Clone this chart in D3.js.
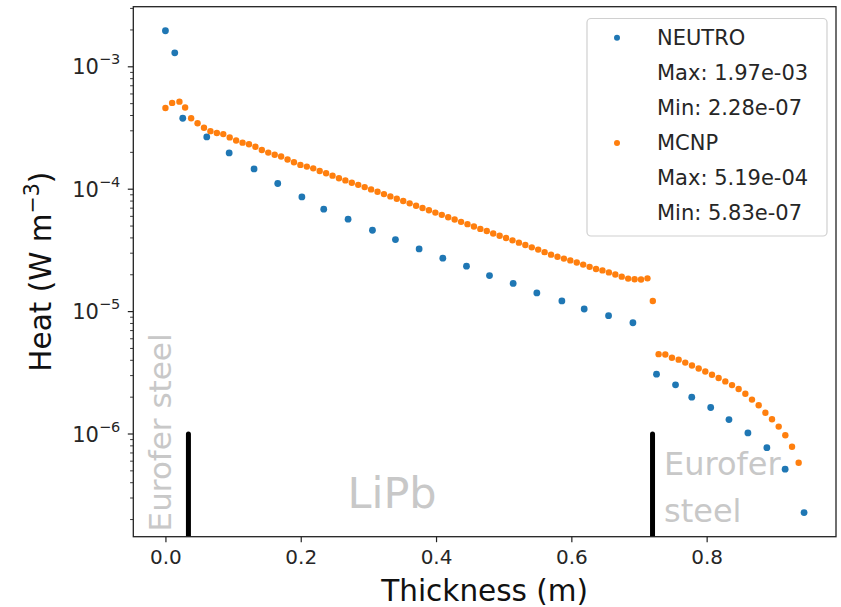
<!DOCTYPE html>
<html>
<head>
<meta charset="utf-8">
<script src="https://cdn.jsdelivr.net/npm/d3@7"></script>
<style>
  html, body { margin: 0; padding: 0; background: #fff; }
  svg { display: block; }
  text { font-family: "DejaVu Sans", sans-serif; }
</style>
</head>
<body>
<svg id="chart" width="841" height="607"></svg>
<script>
// NEUTRO volumetric heating profile (coarse cells)
const neutroX = [0.000, 0.0138, 0.0256, 0.0611, 0.0942, 0.131, 0.166, 0.2017, 0.234, 0.270,
  0.306, 0.340, 0.375, 0.410, 0.445, 0.479, 0.514, 0.549, 0.586, 0.619, 0.655, 0.691,
  0.7259, 0.754, 0.778, 0.806, 0.833, 0.861, 0.889, 0.916, 0.944];
const neutroHeat = [1.97e-3, 1.30e-3, 3.80e-4, 2.675e-4, 1.98e-4, 1.465e-4, 1.113e-4, 8.65e-5, 6.87e-5, 5.69e-5,
  4.62e-5, 3.88e-5, 3.25e-5, 2.73e-5, 2.35e-5, 1.97e-5, 1.70e-5, 1.42e-5, 1.223e-5, 1.05e-5, 9.26e-6, 8.11e-6,
  3.08e-6, 2.52e-6, 2.00e-6, 1.646e-6, 1.313e-6, 1.021e-6, 7.73e-7, 5.16e-7, 2.28e-7];

// MCNP tally results (fine mesh)
const mcnpX = [0.000, 0.0099, 0.0207, 0.0291,
  0.038, 0.0475, 0.057, 0.0665, 0.076, 0.0855, 0.095, 0.1045, 0.114, 0.1235,
  0.133, 0.1425, 0.152, 0.1615, 0.171, 0.1805, 0.19, 0.1995, 0.209, 0.2185,
  0.228, 0.2375, 0.247, 0.2565, 0.266, 0.2755, 0.285, 0.2945, 0.304, 0.3135,
  0.323, 0.3325, 0.342, 0.3515, 0.361, 0.3705, 0.38, 0.3895, 0.399, 0.4085,
  0.418, 0.4275, 0.437, 0.4465, 0.456, 0.4655, 0.475, 0.4845, 0.494, 0.5035,
  0.513, 0.5225, 0.532, 0.5415, 0.551, 0.5605, 0.57, 0.5795, 0.589, 0.5985,
  0.608, 0.6175, 0.627, 0.6365, 0.646, 0.6555, 0.665, 0.6745, 0.684, 0.6935,
  0.703, 0.7125, 0.7204,
  0.729, 0.7389, 0.7487, 0.7586, 0.7684, 0.7783, 0.7882, 0.798, 0.8079, 0.8177,
  0.8276, 0.8375, 0.8473, 0.8572, 0.867, 0.8769, 0.8868, 0.8966, 0.9065, 0.9163,
  0.9262, 0.936];
const mcnpHeat = [4.61e-4, 5.07e-4, 5.19e-4, 4.65e-4,
  3.80e-4, 3.46e-4, 3.18e-4, 2.98e-4, 2.88e-4, 2.82e-4, 2.65e-4, 2.50e-4, 2.40e-4, 2.33e-4,
  2.22e-4, 2.09e-4, 1.99e-4, 1.91e-4, 1.85e-4, 1.75e-4, 1.66e-4, 1.58e-4, 1.53e-4, 1.48e-4,
  1.41e-4, 1.35e-4, 1.29e-4, 1.23e-4, 1.18e-4, 1.13e-4, 1.085e-4, 1.04e-4, 9.96e-5, 9.53e-5,
  9.12e-5, 8.73e-5, 8.36e-5, 8.00e-5, 7.66e-5, 7.33e-5, 7.03e-5, 6.73e-5, 6.44e-5, 6.17e-5,
  5.90e-5, 5.65e-5, 5.41e-5, 5.18e-5, 4.96e-5, 4.74e-5, 4.55e-5, 4.35e-5, 4.17e-5, 3.99e-5,
  3.82e-5, 3.66e-5, 3.50e-5, 3.35e-5, 3.21e-5, 3.06e-5, 2.92e-5, 2.81e-5, 2.71e-5, 2.62e-5,
  2.52e-5, 2.42e-5, 2.32e-5, 2.23e-5, 2.17e-5, 2.09e-5, 2.01e-5, 1.93e-5, 1.86e-5, 1.84e-5,
  1.83e-5, 1.87e-5, 1.22e-5,
  4.49e-6, 4.46e-6, 4.20e-6, 4.05e-6, 3.83e-6, 3.63e-6, 3.43e-6, 3.24e-6, 3.05e-6, 2.87e-6,
  2.69e-6, 2.51e-6, 2.33e-6, 2.13e-6, 1.91e-6, 1.72e-6, 1.49e-6, 1.32e-6, 1.15e-6, 9.78e-7,
  7.87e-7, 5.83e-7];

// Layer interfaces (m) and marker height
const interfaces = [0.034, 0.72];
const interfaceTop = 1e-6;

const xTicks = [0.0, 0.2, 0.4, 0.6, 0.8];
const yTickExps = [-6, -5, -4, -3];

const legendRows = [
  { series: "neutro", text: "NEUTRO" },
  { series: null, text: "Max: 1.97e-03" },
  { series: null, text: "Min: 2.28e-07" },
  { series: "mcnp", text: "MCNP" },
  { series: null, text: "Max: 5.19e-04" },
  { series: null, text: "Min: 5.83e-07" }
];

const colors = { neutro: "#1f77b4", mcnp: "#ff7f0e" };

const svg = d3.select("#chart");
const plot = { left: 133.3, right: 836, top: 6.7, bottom: 536.7 };

const x = d3.scaleLinear().domain([-0.0475, 0.9912]).range([plot.left, plot.right]);
const y = d3.scaleLog().domain([Math.pow(10, -6.839), Math.pow(10, -2.509)]).range([plot.bottom, plot.top]);

svg.append("defs").append("clipPath").attr("id", "plotClip")
  .append("rect")
  .attr("x", plot.left).attr("y", plot.top)
  .attr("width", plot.right - plot.left).attr("height", plot.bottom - plot.top);

const inner = svg.append("g").attr("clip-path", "url(#plotClip)");

// Layer interface markers
inner.selectAll("line.iface").data(interfaces).join("line")
  .attr("class", "iface")
  .attr("x1", d => x(d)).attr("x2", d => x(d))
  .attr("y1", plot.bottom + 10).attr("y2", y(interfaceTop))
  .attr("stroke", "#000").attr("stroke-width", 5).attr("stroke-linecap", "round");

// Data points
inner.selectAll("circle.neutro").data(d3.zip(neutroX, neutroHeat)).join("circle")
  .attr("class", "neutro")
  .attr("cx", d => x(d[0])).attr("cy", d => y(d[1])).attr("r", 3.4)
  .attr("fill", colors.neutro);

inner.selectAll("circle.mcnp").data(d3.zip(mcnpX, mcnpHeat)).join("circle")
  .attr("class", "mcnp")
  .attr("cx", d => x(d[0])).attr("cy", d => y(d[1])).attr("r", 3.2)
  .attr("fill", colors.mcnp);

// Region annotations
const regionColor = "#c8c8c8";
const regionFont = "'Open Sans', 'Noto Sans', sans-serif";
svg.append("text")
  .attr("transform", `translate(${x(-0.0075)},${y(1.6e-7)}) rotate(-90)`)
  .attr("fill", regionColor).attr("font-family", regionFont).attr("font-size", 31)
  .attr("dominant-baseline", "central")
  .text("Eurofer steel");

svg.append("text")
  .attr("x", x(0.335)).attr("y", y(2.5e-7))
  .attr("text-anchor", "middle")
  .attr("fill", regionColor).attr("font-family", regionFont).attr("font-size", 43)
  .text("LiPb");

const rightLabel = svg.append("text")
  .attr("fill", regionColor).attr("font-family", regionFont).attr("font-size", 32);
rightLabel.append("tspan").attr("x", x(0.737)).attr("y", y(4.6e-7)).text("Eurofer");
rightLabel.append("tspan").attr("x", x(0.737)).attr("y", y(1.9e-7)).text("steel");

// Axes
const axisColor = "#222";
const xAxis = svg.append("g").attr("transform", `translate(0,${plot.bottom})`)
  .call(d3.axisBottom(x).tickValues(xTicks).tickFormat(d3.format(".1f")).tickSizeOuter(0).tickSize(5.5).tickPadding(8));
xAxis.select(".domain").remove();
xAxis.selectAll(".tick line").attr("stroke", axisColor).attr("stroke-width", 1.2);
xAxis.selectAll(".tick text").attr("font-size", 20).attr("fill", "#262626");

// Y axis: major decades with superscript labels, minor ticks between
const minorVals = [];
for (let e = -7; e <= -3; e++) {
  for (let m = 2; m <= 9; m++) {
    const v = m * Math.pow(10, e);
    if (v >= y.domain()[0] && v <= y.domain()[1]) minorVals.push(v);
  }
}
const yAxisG = svg.append("g");
yAxisG.selectAll("line.minor").data(minorVals).join("line")
  .attr("x1", plot.left - 3.2).attr("x2", plot.left)
  .attr("y1", d => y(d)).attr("y2", d => y(d))
  .attr("stroke", axisColor).attr("stroke-width", 0.9);
yAxisG.selectAll("line.major").data(yTickExps).join("line")
  .attr("x1", plot.left - 5.5).attr("x2", plot.left)
  .attr("y1", d => y(Math.pow(10, d))).attr("y2", d => y(Math.pow(10, d)))
  .attr("stroke", axisColor).attr("stroke-width", 1.2);
const yLabels = yAxisG.selectAll("text.ylab").data(yTickExps).join("text")
  .attr("x", plot.left - 13).attr("y", d => y(Math.pow(10, d)) + 7.5)
  .attr("text-anchor", "end").attr("fill", "#262626").attr("font-size", 21);
yLabels.append("tspan").text("10");
yLabels.append("tspan").attr("dy", -10).attr("font-size", 14.5).text(d => "\u2212" + Math.abs(d));

// Frame
svg.append("rect")
  .attr("x", plot.left).attr("y", plot.top)
  .attr("width", plot.right - plot.left).attr("height", plot.bottom - plot.top)
  .attr("fill", "none").attr("stroke", axisColor).attr("stroke-width", 1.3);

// Axis titles
svg.append("text")
  .attr("x", (plot.left + plot.right) / 2).attr("y", 601)
  .attr("text-anchor", "middle").attr("font-size", 29.5).attr("fill", "#111")
  .text("Thickness (m)");

const yt = svg.append("text")
  .attr("transform", `translate(51,${(plot.top + plot.bottom) / 2}) rotate(-90)`)
  .attr("text-anchor", "middle").attr("font-size", 29.5).attr("fill", "#111");
yt.append("tspan").text("Heat (W m");
yt.append("tspan").attr("dy", -12).attr("font-size", 20.5).text("\u22123");
yt.append("tspan").attr("dy", 12).text(")");

// Legend
const lg = svg.append("g");
lg.append("rect")
  .attr("x", 587).attr("y", 18.5).attr("width", 240).attr("height", 217.5).attr("rx", 4)
  .attr("fill", "#fff").attr("fill-opacity", 0.8).attr("stroke", "#d0d0d0").attr("stroke-width", 1.2);
const rowY0 = 37.8, rowStep = 35.1;
legendRows.forEach((r, i) => {
  const cy = rowY0 + i * rowStep;
  if (r.series) {
    lg.append("circle").attr("cx", 617).attr("cy", cy).attr("r", 3).attr("fill", colors[r.series]);
  }
  lg.append("text").attr("x", 657).attr("y", cy).attr("dominant-baseline", "central")
    .attr("font-size", 21).attr("fill", "#262626").text(r.text);
});
</script>
</body>
</html>
